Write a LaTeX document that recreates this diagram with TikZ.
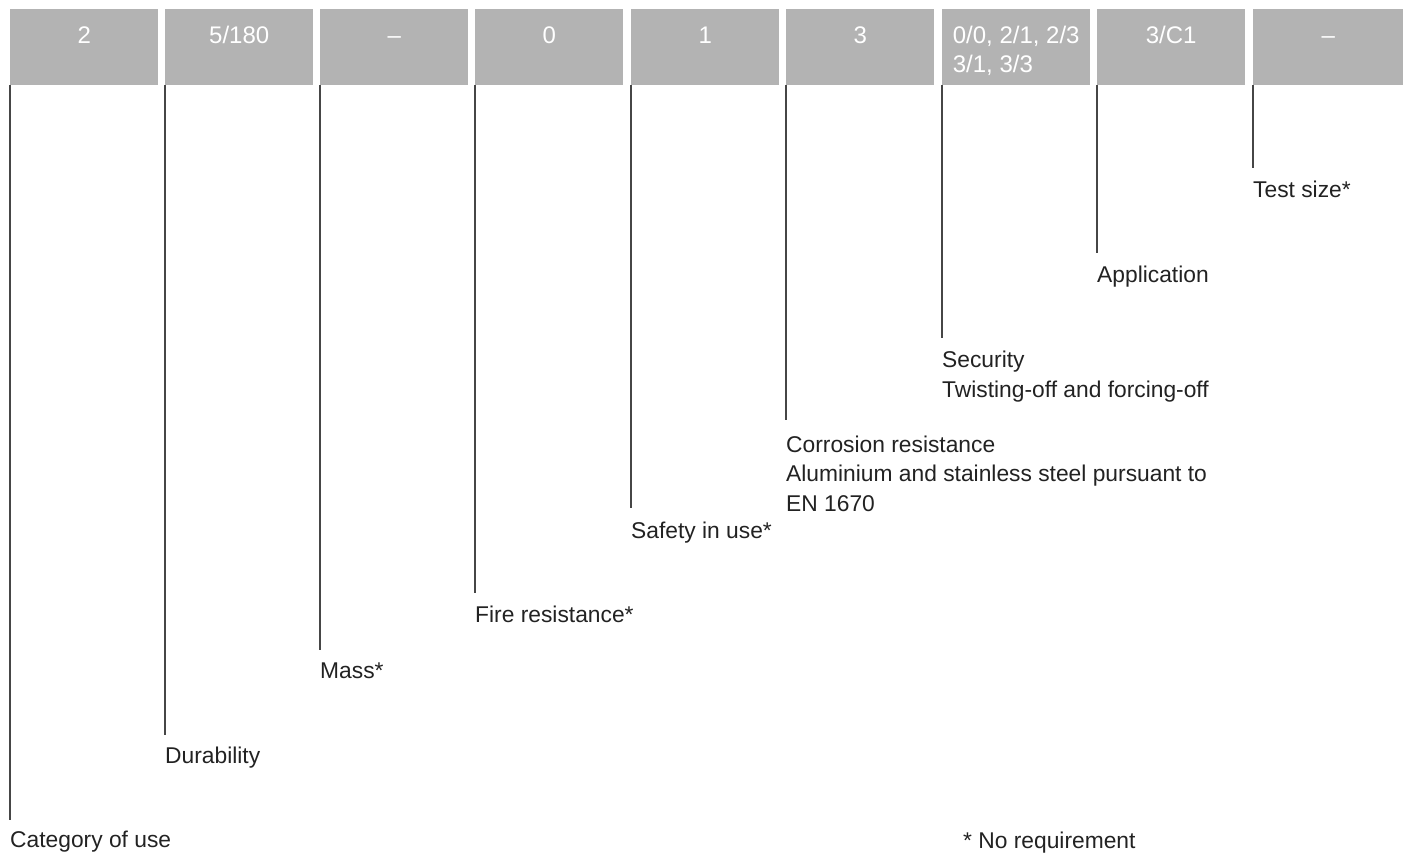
\documentclass[tikz,border=0pt]{standalone}
\usepackage{fontspec}
\setmainfont{Liberation Sans}
\usetikzlibrary{positioning}
\definecolor{boxgray}{RGB}{179,179,179}
\definecolor{inkgray}{RGB}{34,34,34}
\definecolor{linegray}{RGB}{70,70,70}

\begin{document}
\begin{tikzpicture}[x=1pt, y=-1pt,
            valbox/.style={fill=boxgray, text=white, minimum width=148pt, inner sep=0pt,
                           text height=34pt, text depth=42pt, anchor=north west,
                           font=\fontsize{24}{29}\selectfont},
            lbl/.style={text=inkgray, inner sep=0pt, anchor=base west, align=left},
            conn/.style={linegray, line width=1.1pt},
            font=\fontsize{22.8}{29.5}\selectfont
         ]
      \useasboundingbox (0,0) rectangle (1403,852);

      % value boxes
      \node[valbox] (b1) at (10, 9) {2};
      \node[valbox] (b2) at (165, 9) {5/180};
      \node[valbox] (b3) at (320, 9) {–};
      \node[valbox] (b4) at (475, 9) {0};
      \node[valbox] (b5) at (631, 9) {1};
      \node[valbox] (b6) at (786, 9) {3};
      \node[valbox] (b7) at (942, 9) {\begin{tabular}[t]{@{}l@{}}0/0, 2/1, 2/3\\3/1, 3/3\end{tabular}};
      \node[valbox] (b8) at (1097, 9) {3/C1};
      \node[valbox, minimum width=150pt] (b9) at (1253, 9) {–};

      % line ends
      \coordinate (e1) at (10, 820);
      \coordinate (e2) at (165, 735);
      \coordinate (e3) at (320, 650);
      \coordinate (e4) at (475, 593);
      \coordinate (e5) at (631, 508);
      \coordinate (e6) at (786, 420);
      \coordinate (e7) at (942, 338);
      \coordinate (e8) at (1097, 253);
      \coordinate (e9) at (1253, 168);

      % labels (base = last line)
      \node[lbl] (l1) at (10, 847) {Category of use};
      \node[lbl] (l2) at (165, 763) {Durability};
      \node[lbl] (l3) at (320, 678) {Mass*};
      \node[lbl] (l4) at (475, 622) {Fire resistance*};
      \node[lbl] (l5) at (631, 538) {Safety in use*};
      \node[lbl] (l6) at (786, 511) {Corrosion resistance\\Aluminium and stainless steel pursuant to\\EN 1670};
      \node[lbl] (l7) at (942, 397) {Security\\Twisting-off and forcing-off};
      \node[lbl] (l8) at (1097, 282) {Application};
      \node[lbl] (l9) at (1253, 197) {Test size*};
      \node[lbl] (note) at (963, 848) {* No requirement};

      \draw[conn] (b1.south west) -- (e1);
      \draw[conn] (b2.south west) -- (e2);
      \draw[conn] (b3.south west) -- (e3);
      \draw[conn] (b4.south west) -- (e4);
      \draw[conn] (b5.south west) -- (e5);
      \draw[conn] (b6.south west) -- (e6);
      \draw[conn] (b7.south west) -- (e7);
      \draw[conn] (b8.south west) -- (e8);
      \draw[conn] (b9.south west) -- (e9);
   \end{tikzpicture}
\end{document}
